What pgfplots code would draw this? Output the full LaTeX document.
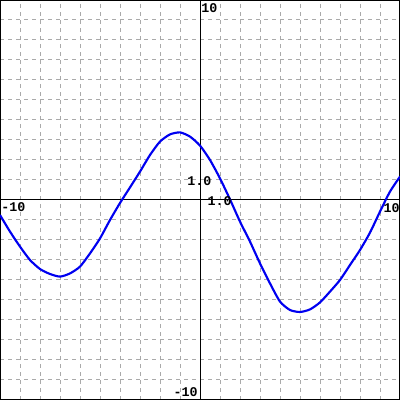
\documentclass[border=0pt]{standalone}
\usepackage{pgfplots}
\pgfplotsset{compat=1.18}
\usepackage{fontspec}
\setmonofont{Liberation Mono}
\definecolor{gridgray}{HTML}{AAAAAA}
\definecolor{curveblue}{HTML}{0000F0}
\begin{document}
\begin{tikzpicture}
\begin{axis}[
  name=ax,
  width=300pt, height=300pt, scale only axis,
  xmin=-10, xmax=10, ymin=-10, ymax=10,
  xtick={-9,...,9}, ytick={-9,...,9},
  xticklabel=\empty, yticklabel=\empty,
  major tick length=0pt,
  grid=major,
  grid style={gridgray, line width=0.75pt, dash pattern=on 3pt off 3pt},
  extra x ticks={0}, extra y ticks={0},
  extra x tick style={grid style={black, solid, line width=0.75pt}, xticklabel=\empty},
  extra y tick style={grid style={black, solid, line width=0.75pt}, yticklabel=\empty},
  axis line style={black, line width=1.5pt},
  clip=true,
]
\addplot[curveblue, line width=1.6pt, smooth, tension=0.4] coordinates {
(-10,-0.75) (-9.5,-1.58) (-9,-2.33) (-8.5,-3.0) (-8,-3.45) (-7.5,-3.7)
(-7,-3.83) (-6.5,-3.67) (-6,-3.33) (-5.5,-2.67) (-5,-1.92) (-4.5,-1.0)
(-4,-0.15) (-3.5,0.63) (-3,1.42) (-2.5,2.25) (-2,2.92) (-1.5,3.28)
(-1,3.38) (-0.5,3.17) (0,2.72) (0.5,2.0) (1,1.08) (1.5,0.03)
(2,-1.08) (2.5,-2.08) (3,-3.17) (3.5,-4.17) (4,-5.08) (4.5,-5.5)
(5,-5.6) (5.5,-5.47) (6,-5.12) (6.5,-4.58) (7,-4.0) (7.5,-3.25)
(8,-2.5) (8.5,-1.63) (9,-0.58) (9.5,0.42) (10,1.17)
};
\end{axis}
\begin{axis}[
  width=300pt, height=300pt, scale only axis,
  xmin=-10, xmax=10, ymin=-10, ymax=10,
  hide axis, clip=false,
]
\tikzset{lab/.style={inner sep=0pt, font=\ttfamily\bfseries\fontsize{10pt}{10pt}\selectfont}}
\node[lab, anchor=north west] at (axis cs:0.05,9.85) {10};
\node[lab, anchor=south east] at (axis cs:-0.1,-9.85) {-10};
\node[lab, anchor=north west] at (axis cs:-9.95,-0.1) {-10};
\node[lab, anchor=north east] at (axis cs:10,-0.15) {10};
\node[lab, anchor=center] at (axis cs:-0.03,0.95) {1.0};
\node[lab, anchor=center] at (axis cs:0.98,-0.08) {1.0};
\end{axis}
\pgfresetboundingbox
\path (ax.south west) rectangle (ax.north east);
\end{tikzpicture}
\end{document}
